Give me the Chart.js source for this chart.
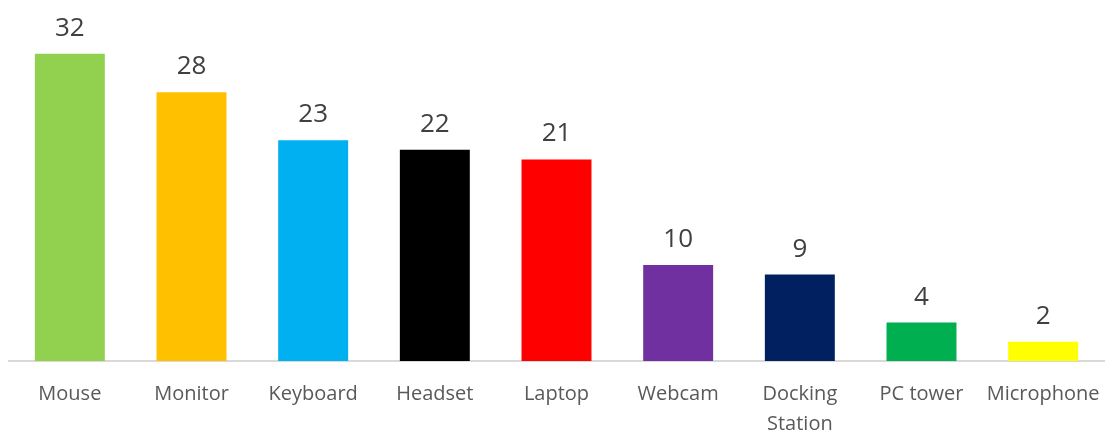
<!DOCTYPE html>
<html>
<head>
<meta charset="utf-8">
<script src="https://cdn.jsdelivr.net/npm/chart.js@4/dist/chart.umd.min.js"></script>
<style>
  html, body { margin: 0; padding: 0; background: #fff; }
  #wrap { width: 1113px; height: 433px; }
</style>
</head>
<body>
<div id="wrap"><canvas id="chart"></canvas></div>
<script>
// Kategoriler ve değerler
const categories = ['Mouse', 'Monitor', 'Keyboard', 'Headset', 'Laptop', 'Webcam', ['Docking', 'Station'], 'PC tower', 'Microphone'];
const counts = [32, 28, 23, 22, 21, 10, 9, 4, 2];
const barColors = ['#92d050', '#ffc000', '#00b0f0', '#000000', '#ff0000', '#7030a0', '#002060', '#00b050', '#ffff00'];

// Çubukların üstüne değer yaz
const valueLabels = {
    id: 'valueLabels',
    afterDatasetsDraw(chart) {
        const ctx = chart.ctx;
        const meta = chart.getDatasetMeta(0);
        ctx.save();
        ctx.font = '26px "Open Sans", sans-serif';
        ctx.fillStyle = '#404040';
        ctx.textAlign = 'center';
        ctx.textBaseline = 'alphabetic';
        meta.data.forEach((bar, i) => {
            ctx.fillText(counts[i], bar.x, bar.y - 18);
        });
        ctx.restore();
    }
};

new Chart(document.getElementById('chart'), {
    type: 'bar',
    data: {
        labels: categories,
        datasets: [{
            data: counts,
            backgroundColor: barColors,
            barPercentage: 0.575,
            categoryPercentage: 1
        }]
    },
    options: {
        responsive: true,
        maintainAspectRatio: false,
        animation: false,
        layout: { padding: { top: 25, left: 9, right: 9, bottom: 0 } },
        plugins: {
            legend: { display: false },
            tooltip: { enabled: false }
        },
        scales: {
            x: {
                grid: { display: false },
                border: { color: '#d9d9d9', width: 2 },
                ticks: {
                    color: '#595959',
                    font: { family: '"Open Sans", sans-serif', size: 20, lineHeight: 1.5 },
                    padding: 10,
                    maxRotation: 0,
                    autoSkip: false
                },
                afterFit(scale) {
                    scale.height = 72;
                }
            },
            y: {
                display: false,
                min: 0,
                max: 35
            }
        }
    },
    plugins: [valueLabels]
});
</script>
</body>
</html>
